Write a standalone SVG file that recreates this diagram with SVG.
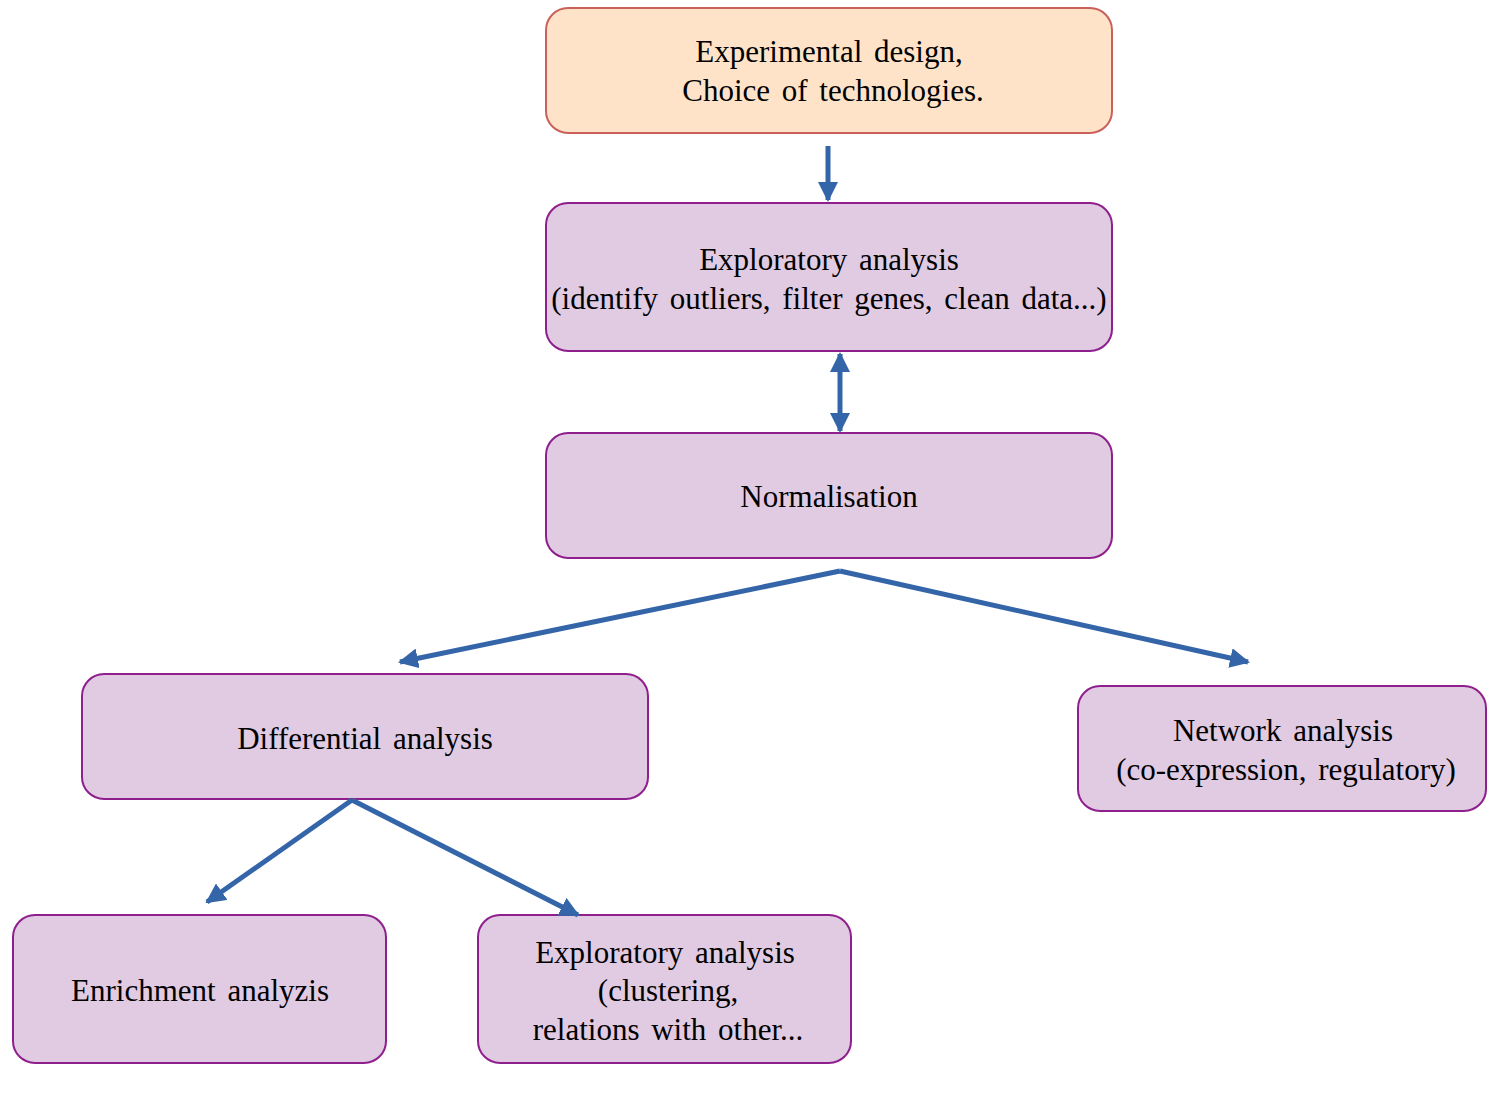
<svg xmlns="http://www.w3.org/2000/svg" width="1512" height="1115" viewBox="0 0 1512 1115">
<defs>
<style>
.box{fill:#E0CBE3;stroke:#8E1F8C;stroke-width:2}
.top{fill:#FFE3C8;stroke:#C9605A;stroke-width:2}
text{font-family:"Liberation Serif","Times New Roman",serif;font-size:31px;fill:#000;text-anchor:middle;word-spacing:4px}
.c{fill:none;stroke:#3465A8;stroke-width:5}
</style>
<marker id="ah" viewBox="0 0 20 20" refX="18" refY="10" markerWidth="20" markerHeight="20" markerUnits="userSpaceOnUse" orient="auto-start-reverse">
<path d="M0,0 L20,10 L0,20 z" fill="#3465A8"/>
</marker>
</defs>
<rect width="1512" height="1115" fill="#fff"/>
<g id="n1"><rect class="top" x="546" y="8" width="566" height="125" rx="22"/><text x="829" y="62">Experimental design,</text><text x="833" y="101">Choice of technologies.</text></g>
<g id="n2"><rect class="box" x="546" y="203" width="566" height="148" rx="22"/><text x="829" y="270">Exploratory analysis</text><text x="829" y="309">(identify outliers, filter genes, clean data...)</text></g>
<g id="n3"><rect class="box" x="546" y="433" width="566" height="125" rx="22"/><text x="829" y="507">Normalisation</text></g>
<g id="n4"><rect class="box" x="82" y="674" width="566" height="125" rx="22"/><text x="365" y="749">Differential analysis</text></g>
<g id="n5"><rect class="box" x="1078" y="686" width="408" height="125" rx="22"/><text x="1283" y="741">Network analysis</text><text x="1286" y="780">(co-expression, regulatory)</text></g>
<g id="n6"><rect class="box" x="13" y="915" width="373" height="148" rx="22"/><text x="200" y="1001">Enrichment analyzis</text></g>
<g id="n7"><rect class="box" x="478" y="915" width="373" height="148" rx="22"/><text x="665" y="963">Exploratory analysis</text><text x="668" y="1001">(clustering,</text><text x="668" y="1040">relations with other...</text></g>
<g id="connectors">
<path class="c" d="M828,146 L828,200" marker-end="url(#ah)"/>
<path class="c" d="M840,354 L840,431" marker-start="url(#ah)" marker-end="url(#ah)"/>
<path class="c" d="M840,571 L400,662" marker-end="url(#ah)"/>
<path class="c" d="M840,571 L1248,662" marker-end="url(#ah)"/>
<path class="c" d="M352,800 L207,902" marker-end="url(#ah)"/>
<path class="c" d="M352,800 L578,915" marker-end="url(#ah)"/>
</g>
</svg>
